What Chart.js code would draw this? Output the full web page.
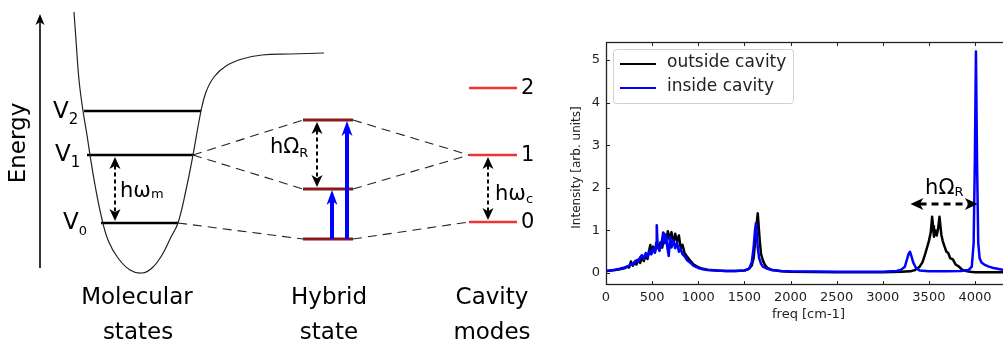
<!DOCTYPE html>
<html>
<head>
<meta charset="utf-8">
<script src="https://cdn.jsdelivr.net/npm/chart.js@4.4.1/dist/chart.umd.min.js"></script>
<style>
html,body{margin:0;padding:0;background:#fff;overflow:hidden;width:1003px;height:344px;}
#diagram{position:absolute;left:0;top:0;}
#spectrum{position:absolute;left:550px;top:0;}
</style>
</head>
<body>
<canvas id="diagram" width="550" height="344"></canvas>
<canvas id="spectrum" width="461" height="344"></canvas>
<script>
// ---------- LEFT PANEL: energy level diagram (units = picture px) ----------
const wellX = [74, 76, 79, 83, 87, 90, 95, 101, 108, 118, 130, 142, 152, 162, 171, 178, 186, 193, 201, 206, 214, 226, 242, 262, 290, 324];
const wellY = [12, 40, 80, 111, 135, 155, 185, 215, 240, 258, 270, 273, 268, 255, 237, 223, 190, 155, 111, 92, 77, 66, 59, 55, 54, 53];

const molLevelY = [223, 155, 111];      // v0, v1, v2
const molLevelLeft = [101, 87, 84];
const molLevelRight = [178, 193, 201];
const hybridLevelY = [239, 189, 120];   // lower, middle, upper polariton
const hybridLeft = 303, hybridRight = 353;
const cavityLevelY = [222, 155, 88];    // 0, 1, 2
const cavityLeft = 469, cavityRight = 517;
const cavityLabels = ["0", "1", "2"];
const molLabels = ["0", "1", "2"];

// dashed correlation lines: [x1, y1, x2, y2]
const linkLines = [
  [193, 155, 303, 120],
  [193, 155, 303, 189],
  [178, 223, 303, 239],
  [353, 120, 469, 155],
  [353, 189, 469, 155],
  [353, 239, 469, 222]
];

// ---------- RIGHT PANEL: spectra ----------
const outsideFreq = [0,50,100,150,200,230,250,270,290,310,330,350,370,390,410,430,450,470,480,490,510,530,550,570,590,610,630,650,670,690,710,730,750,770,790,810,830,850,880,910,950,1000,1050,1100,1200,1300,1400,1500,1550,1580,1600,1620,1635,1645,1655,1665,1680,1700,1720,1750,1800,1900,2000,2500,3000,3200,3300,3350,3400,3430,3460,3480,3500,3520,3535,3545,3555,3570,3585,3600,3615,3625,3635,3650,3670,3690,3710,3730,3760,3790,3820,3860,3900,3950,4000,4100,4200,4390];
const outsideInt = [0.05,0.06,0.07,0.09,0.11,0.15,0.13,0.27,0.17,0.24,0.2,0.32,0.24,0.38,0.28,0.42,0.33,0.55,0.66,0.45,0.62,0.48,0.7,0.58,0.72,0.6,0.92,0.72,0.98,0.78,0.96,0.68,0.92,0.74,0.88,0.58,0.66,0.48,0.38,0.3,0.2,0.14,0.1,0.08,0.06,0.05,0.05,0.06,0.1,0.18,0.35,0.8,1.2,1.4,1.1,0.8,0.45,0.3,0.2,0.12,0.07,0.04,0.03,0.02,0.02,0.03,0.04,0.07,0.15,0.25,0.45,0.6,0.75,0.95,1.32,1.1,0.85,1.0,0.88,1.05,1.32,1.1,0.9,0.75,0.62,0.5,0.47,0.35,0.32,0.2,0.16,0.08,0.05,0.03,0.02,0.02,0.02,0.02];

const insideFreq = [0,50,100,150,200,250,270,290,310,330,350,370,390,410,430,450,470,490,510,530,545,550,560,580,600,620,635,650,665,680,695,710,730,750,770,790,810,830,850,880,910,950,1000,1050,1100,1200,1300,1400,1500,1550,1580,1600,1615,1625,1635,1645,1660,1680,1700,1750,1800,1900,2000,2500,3000,3150,3200,3240,3260,3280,3295,3310,3330,3360,3400,3500,3700,3850,3930,3965,3985,3998,4010,4022,4035,4050,4070,4100,4150,4200,4300,4390];
const insideInt = [0.05,0.06,0.08,0.1,0.13,0.17,0.22,0.19,0.27,0.3,0.26,0.37,0.42,0.34,0.47,0.38,0.52,0.44,0.57,0.48,0.72,1.12,0.62,0.52,0.68,0.95,0.7,0.9,0.6,0.4,0.85,0.6,0.77,0.58,0.72,0.5,0.56,0.44,0.4,0.3,0.25,0.17,0.12,0.09,0.07,0.06,0.05,0.05,0.06,0.1,0.25,0.6,1.0,1.17,0.9,0.6,0.35,0.22,0.15,0.1,0.07,0.05,0.04,0.03,0.03,0.05,0.08,0.15,0.3,0.45,0.5,0.4,0.25,0.12,0.06,0.04,0.04,0.05,0.07,0.15,0.7,2.6,5.2,2.6,0.7,0.35,0.25,0.2,0.15,0.12,0.08,0.07];

const xTicks = [0, 500, 1000, 1500, 2000, 2500, 3000, 3500, 4000];
const yTicks = [0, 1, 2, 3, 4, 5];
const seriesNames = ["outside cavity", "inside cavity"];
const seriesColors = ["#000000", "#0000ff"];

// Rabi splitting annotation (data units)
const rabiArrow = { from: 3300, to: 4030, y: 1.62 };
const rabiLabel = { x: 3665, y: 1.94 };

Chart.defaults.font.family = "'DejaVu Sans', sans-serif";
Chart.defaults.color = "#222";

// helpers
function head(ctx, tx, ty, dx, dy, len, hw) {
  // concave arrow head, tip at (tx,ty), pointing along (dx,dy)
  const px = -dy, py = dx;
  const bx = tx - dx * len, by = ty - dy * len;
  const nx = tx - dx * len * 0.72, ny = ty - dy * len * 0.72;
  ctx.beginPath();
  ctx.moveTo(tx, ty);
  ctx.lineTo(bx + px * hw, by + py * hw);
  ctx.lineTo(nx, ny);
  ctx.lineTo(bx - px * hw, by - py * hw);
  ctx.closePath();
  ctx.fill();
}
function dashedDouble(ctx, x1, y1, x2, y2, len, hw, lw, dash) {
  const L = Math.hypot(x2 - x1, y2 - y1), dx = (x2 - x1) / L, dy = (y2 - y1) / L;
  ctx.save();
  ctx.lineWidth = lw;
  ctx.setLineDash(dash);
  ctx.beginPath();
  ctx.moveTo(x1 + dx * len * 0.7, y1 + dy * len * 0.7);
  ctx.lineTo(x2 - dx * len * 0.7, y2 - dy * len * 0.7);
  ctx.stroke();
  ctx.setLineDash([]);
  head(ctx, x2, y2, dx, dy, len, hw);
  head(ctx, x1, y1, -dx, -dy, len, hw);
  ctx.restore();
}
function subText(ctx, main, sub, x, y, size, subSize, subDrop) {
  ctx.textAlign = "left";
  ctx.textBaseline = "alphabetic";
  ctx.font = size + "px 'DejaVu Sans'";
  ctx.fillText(main, x, y);
  const w = ctx.measureText(main).width;
  ctx.font = subSize + "px 'DejaVu Sans'";
  ctx.fillText(sub, x + w, y + subDrop);
}

// ---------- diagram chart ----------
const diagramDatasets = [];
diagramDatasets.push({
  data: wellX.map((v, i) => ({ x: v, y: wellY[i] })),
  borderColor: "#222", borderWidth: 1.2, tension: 0.4
});
molLevelY.forEach((lv, i) => diagramDatasets.push({
  data: [{ x: molLevelLeft[i], y: lv }, { x: molLevelRight[i], y: lv }],
  borderColor: "#000", borderWidth: 2.5
}));
hybridLevelY.forEach(lv => diagramDatasets.push({
  data: [{ x: hybridLeft, y: lv }, { x: hybridRight, y: lv }],
  borderColor: "#8b1a1a", borderWidth: 3
}));
cavityLevelY.forEach(lv => diagramDatasets.push({
  data: [{ x: cavityLeft, y: lv }, { x: cavityRight, y: lv }],
  borderColor: "#ee3333", borderWidth: 2.5
}));
linkLines.forEach(l => diagramDatasets.push({
  data: [{ x: l[0], y: l[1] }, { x: l[2], y: l[3] }],
  borderColor: "#222", borderWidth: 1.1, borderDash: [9, 6]
}));

const diagramDeco = {
  id: "diagramDeco",
  afterDatasetsDraw(chart) {
    const { ctx, scales: { x, y } } = chart;
    const X = v => x.getPixelForValue(v), Y = v => y.getPixelForValue(v);
    ctx.save();
    ctx.fillStyle = "#000";
    ctx.strokeStyle = "#000";

    // energy axis
    ctx.lineWidth = 1.6;
    ctx.beginPath(); ctx.moveTo(X(40), Y(268)); ctx.lineTo(X(40), Y(22)); ctx.stroke();
    head(ctx, X(40), Y(14), 0, -1, 11, 4.5);

    // spacing arrows
    dashedDouble(ctx, X(115), Y(157), X(115), Y(221), 12, 5.5, 2, [4, 3]);
    dashedDouble(ctx, X(317), Y(122), X(317), Y(187), 12, 5.5, 2, [4, 3]);
    dashedDouble(ctx, X(488), Y(157), X(488), Y(220), 12, 5.5, 2, [4, 3]);

    // blue excitation arrows
    ctx.fillStyle = "#0000ff"; ctx.strokeStyle = "#0000ff"; ctx.lineWidth = 4;
    [[332, hybridLevelY[1] + 1], [347, hybridLevelY[2] + 1]].forEach(([ax, top]) => {
      ctx.beginPath(); ctx.moveTo(X(ax), Y(hybridLevelY[0])); ctx.lineTo(X(ax), Y(top) + 10); ctx.stroke();
      head(ctx, X(ax), Y(top), 0, -1, 15, 5.5);
    });

    // text
    ctx.fillStyle = "#000";
    ctx.save();
    ctx.translate(X(19), Y(143));
    ctx.rotate(-Math.PI / 2);
    ctx.font = "23px 'DejaVu Sans'";
    ctx.textAlign = "center"; ctx.textBaseline = "middle";
    ctx.fillText("Energy", 0, 0);
    ctx.restore();

    subText(ctx, "V", molLabels[2], X(53), Y(118), 23, 15, 6);
    subText(ctx, "V", molLabels[1], X(55), Y(161), 23, 15, 6);
    subText(ctx, "V", molLabels[0], X(63), Y(229), 23, 13, 6);

    subText(ctx, "hω", "m", X(120), Y(197), 21, 13, 1);
    subText(ctx, "hΩ", "R", X(270), Y(153), 21, 13, 4);
    subText(ctx, "hω", "c", X(495), Y(200), 21, 13, 3);

    ctx.font = "21px 'DejaVu Sans'";
    ctx.textAlign = "left"; ctx.textBaseline = "middle";
    cavityLevelY.forEach((lv, i) => ctx.fillText(cavityLabels[i], X(521), Y(lv + 1)));

    ctx.font = "23px 'DejaVu Sans'";
    ctx.textAlign = "center";
    ctx.fillText("Molecular", X(137), Y(298));
    ctx.fillText("states", X(138), Y(333));
    ctx.fillText("Hybrid", X(329), Y(298));
    ctx.fillText("state", X(329), Y(333));
    ctx.fillText("Cavity", X(492), Y(298));
    ctx.fillText("modes", X(492), Y(333));
    ctx.restore();
  }
};

new Chart(document.getElementById("diagram").getContext("2d"), {
  type: "scatter",
  data: { datasets: diagramDatasets },
  options: {
    responsive: false, animation: false, devicePixelRatio: 1,
    layout: { padding: 0 },
    showLine: true,
    elements: { point: { radius: 0 }, line: { tension: 0 } },
    plugins: { legend: { display: false }, tooltip: { enabled: false } },
    scales: {
      x: { type: "linear", display: false, min: 0, max: 550 },
      y: { type: "linear", display: false, min: 0, max: 344, reverse: true }
    }
  },
  plugins: [diagramDeco]
});

// ---------- spectrum chart ----------
const spectrumDeco = {
  id: "spectrumDeco",
  afterDraw(chart) {
    const { ctx, chartArea: a, scales: { x, y } } = chart;
    ctx.save();
    ctx.strokeStyle = "#222";
    ctx.fillStyle = "#222";
    ctx.lineWidth = 1;
    ctx.beginPath();
    xTicks.forEach(v => {
      const px = Math.round(x.getPixelForValue(v)) + 0.5;
      ctx.moveTo(px, a.bottom); ctx.lineTo(px, a.bottom - 4);
      ctx.moveTo(px, a.top); ctx.lineTo(px, a.top + 4);
    });
    yTicks.forEach(v => {
      const py = Math.round(y.getPixelForValue(v)) + 0.5;
      ctx.moveTo(a.left, py); ctx.lineTo(a.left + 4, py);
      ctx.moveTo(a.right, py); ctx.lineTo(a.right - 4, py);
    });
    ctx.stroke();
    ctx.lineWidth = 1.3;
    ctx.strokeRect(a.left + 0.5, a.top + 0.5, a.width - 1, a.height - 1);

    // axis titles
    ctx.font = "13px 'DejaVu Sans'";
    ctx.textAlign = "center"; ctx.textBaseline = "middle";
    ctx.fillText("freq [cm-1]", (a.left + a.right) / 2, 315);
    ctx.save();
    ctx.translate(27, (a.top + a.bottom) / 2 + 4);
    ctx.rotate(-Math.PI / 2);
    ctx.font = "12px 'DejaVu Sans'";
    ctx.fillText("Intensity [arb. units]", 0, 0);
    ctx.restore();

    // legend
    const lx = a.left + 7, ly = a.top + 7, lw = 180, lh = 54;
    ctx.fillStyle = "rgba(255,255,255,0.85)";
    ctx.strokeStyle = "#d0d0d0"; ctx.lineWidth = 1;
    ctx.beginPath(); ctx.roundRect(lx + 0.5, ly + 0.5, lw, lh, 3); ctx.fill(); ctx.stroke();
    ctx.font = "17px 'DejaVu Sans'";
    ctx.textAlign = "left"; ctx.textBaseline = "middle";
    seriesNames.forEach((n, i) => {
      const ry = ly + 15 + i * 24;
      ctx.strokeStyle = seriesColors[i]; ctx.lineWidth = 2.2;
      ctx.beginPath(); ctx.moveTo(lx + 7, ry); ctx.lineTo(lx + 43, ry); ctx.stroke();
      ctx.fillStyle = "#222";
      ctx.fillText(n, lx + 54, ry - 1);
    });

    // Rabi splitting annotation
    ctx.fillStyle = "#000"; ctx.strokeStyle = "#000";
    dashedDouble(ctx, x.getPixelForValue(rabiArrow.from), y.getPixelForValue(rabiArrow.y),
      x.getPixelForValue(rabiArrow.to), y.getPixelForValue(rabiArrow.y), 13, 6, 3, [7, 5]);
    subText(ctx, "hΩ", "R", x.getPixelForValue(rabiLabel.x) - 19, y.getPixelForValue(rabiLabel.y) + 4, 21, 13, 2);
    ctx.restore();
  }
};

const toPoints = (fs, vs) => fs.map((f, i) => ({ x: f, y: vs[i] }));

new Chart(document.getElementById("spectrum").getContext("2d"), {
  type: "line",
  data: {
    datasets: [
      { label: seriesNames[0], data: toPoints(outsideFreq, outsideInt), borderColor: seriesColors[0], borderWidth: 2.5, order: 2 },
      { label: seriesNames[1], data: toPoints(insideFreq, insideInt), borderColor: seriesColors[1], borderWidth: 2.5, order: 1 }
    ]
  },
  options: {
    responsive: false, animation: false, devicePixelRatio: 1,
    layout: { padding: { top: 42, right: 0, left: 0, bottom: 0 } },
    elements: { point: { radius: 0 }, line: { tension: 0, borderJoinStyle: "round" } },
    plugins: { legend: { display: false }, tooltip: { enabled: false } },
    scales: {
      x: {
        type: "linear", min: 0, max: 4390,
        grid: { display: false, drawTicks: false },
        border: { display: false },
        ticks: { font: { size: 13 }, color: "#222", padding: 5, maxRotation: 0, callback: v => String(v) },
        afterBuildTicks: s => { s.ticks = xTicks.map(v => ({ value: v })); },
        afterFit: s => { s.height = 59; }
      },
      y: {
        type: "linear", min: -0.28, max: 5.42,
        grid: { display: false, drawTicks: false },
        border: { display: false },
        ticks: { font: { size: 13 }, color: "#222", padding: 6, callback: v => String(v) },
        afterBuildTicks: s => { s.ticks = yTicks.map(v => ({ value: v })); },
        afterFit: s => { s.width = 56; }
      }
    }
  },
  plugins: [spectrumDeco]
});
</script>
</body>
</html>
